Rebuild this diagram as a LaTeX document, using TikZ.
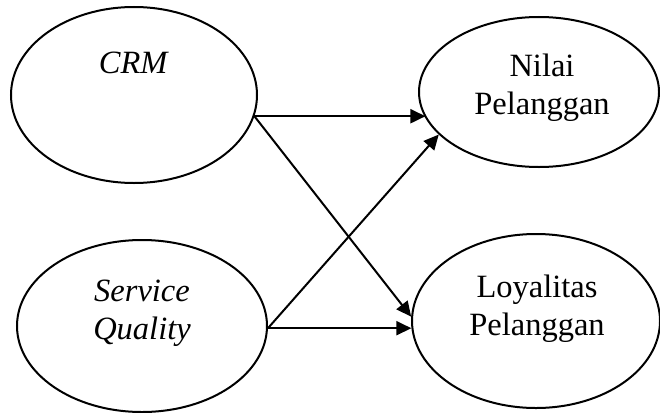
\documentclass[tikz,border=0pt]{standalone}
\usepackage{fontspec}
\setmainfont{Liberation Serif}
\usetikzlibrary{arrows.meta,shapes.geometric}
\begin{document}
\begin{tikzpicture}[x=1pt,y=-1pt,
  var/.style={draw,ellipse,line width=2pt,inner sep=0pt},
  lbl/.style={align=center,font=\fontsize{32.5}{38}\selectfont},
  arr/.style={line width=2pt,-{Triangle[length=15pt,width=14pt]}}]
\useasboundingbox (0,0) rectangle (660,412);
\node[var,minimum width=246pt,minimum height=176pt] (crm) at (134,95) {};
\node[var,minimum width=240pt,minimum height=150pt] (nilai) at (539,92) {};
\node[var,minimum width=250pt,minimum height=172pt] (sq) at (142,326) {};
\node[var,minimum width=248pt,minimum height=174pt] (loy) at (536,321) {};
\node[lbl] (crmt) at (134,63) {\textit{CRM}};
\node[lbl] (nilait) at (542,88) {Nilai\\Pelanggan};
\node[lbl] (sqt) at (142,313) {\textit{Service}\\\textit{Quality}};
\node[lbl] (loyt) at (537,309) {Loyalitas\\Pelanggan};
\draw[arr] (crm.-10) -- (crm.-10 -| nilai.193);
\draw[arr] (crm.-10) -- (loy.178);
\draw[arr] (sq.-1) -- (nilai.203);
\draw[arr] (sq.-1) -- (sq.-1 -| loy.183.5);
\end{tikzpicture}
\end{document}
